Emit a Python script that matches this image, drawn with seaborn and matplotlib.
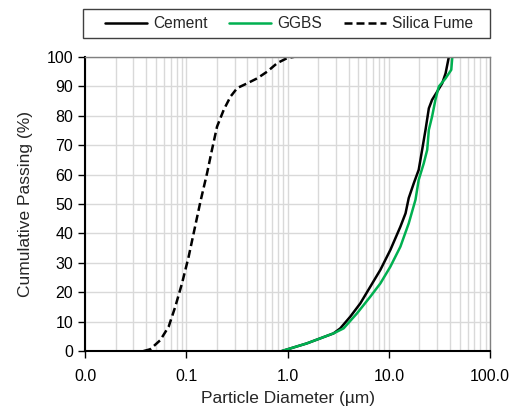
import matplotlib
matplotlib.use("Agg")
import matplotlib.pyplot as plt
import matplotlib.ticker as mticker
from matplotlib.patches import Rectangle
import seaborn as sns
import pandas as pd
import numpy as np

cement_d = [0.877, 1.55, 2.84, 3.31, 4.16, 5.22, 6.56, 8.24, 10.35, 13.0, 14.6, 15.7, 17.6, 19.7, 21.3, 23.0, 24.8, 26.7, 30.0, 33.6, 36.3, 39.1]
cement_p = [0, 2.6, 6.0, 7.7, 11.7, 16.2, 21.9, 27.6, 34.4, 42.3, 46.8, 52.0, 57.0, 61.6, 68.4, 75.2, 82.5, 85.4, 88.2, 91.0, 94.4, 100]

ggbs_d = [0.877, 1.55, 2.84, 3.57, 4.84, 6.56, 8.24, 10.35, 13.0, 15.7, 18.3, 19.7, 22.1, 23.9, 24.8, 26.7, 28.8, 31.1, 36.3, 41.3, 42.3]
ggbs_p = [0, 2.6, 6.0, 7.7, 12.8, 18.5, 23.0, 28.7, 35.5, 43.4, 51.4, 58.2, 63.8, 68.4, 75.2, 79.7, 85.4, 89.9, 92.7, 95.6, 100]

sf_d = [0.0378, 0.0440, 0.0553, 0.0669, 0.0778, 0.0906, 0.1054, 0.118, 0.1377, 0.160, 0.179, 0.201, 0.234, 0.273, 0.318, 0.399, 0.501, 0.630, 0.791, 0.993, 1.156]
sf_p = [0, 0.6, 3.7, 8.3, 15.1, 23.0, 32.1, 40.0, 50.8, 60.4, 68.4, 76.3, 82.0, 86.5, 89.4, 91.0, 92.7, 95.0, 97.9, 99.6, 100]

series_names = ["Cement", "GGBS", "Silica Fume"]

sns.set_style("white")
plt.rcParams['font.family'] = ['Liberation Sans', 'DejaVu Sans']

fig = plt.figure(figsize=(5.22, 4.12), dpi=100)
ax = fig.add_axes([0.163, 0.148, 0.776, 0.714])

df = pd.concat([
    pd.DataFrame({"d": cement_d, "p": cement_p, "s": series_names[0]}),
    pd.DataFrame({"d": ggbs_d, "p": ggbs_p, "s": series_names[1]}),
    pd.DataFrame({"d": sf_d, "p": sf_p, "s": series_names[2]}),
])

colors = {"Cement": "black", "GGBS": "#00B050", "Silica Fume": "black"}
for name in series_names:
    sub = df[df.s == name]
    ls = (0, (3.2, 1.6)) if name == "Silica Fume" else "-"
    sns.lineplot(data=sub, x="d", y="p", ax=ax, color=colors[name], linewidth=1.8,
                 linestyle=ls, estimator=None, sort=False, label=name, legend=False)

ax.set_xscale("log")
ax.set_xlim(0.01, 100)
ax.set_ylim(0, 100)
ax.set_yticks(np.arange(0, 101, 10))
ax.xaxis.set_major_locator(mticker.LogLocator(base=10, numticks=10))
ax.xaxis.set_minor_locator(mticker.LogLocator(base=10, subs=np.arange(2, 10), numticks=100))
ax.xaxis.set_major_formatter(mticker.FuncFormatter(lambda v, p: f"{v:.1f}"))
ax.xaxis.set_minor_formatter(mticker.NullFormatter())

ax.grid(True, which="major", color="#d9d9d9", linewidth=1.0)
ax.grid(True, which="minor", axis="x", color="#d9d9d9", linewidth=1.0)
ax.set_axisbelow(True)

for side in ["left", "bottom"]:
    ax.spines[side].set_color("black")
    ax.spines[side].set_linewidth(1.5)
for side in ["top", "right"]:
    ax.spines[side].set_color("#808080")
    ax.spines[side].set_linewidth(1.0)

ax.tick_params(axis="both", which="major", direction="out", length=5, width=1,
               labelsize=11.5, colors="black", bottom=True, left=True)
ax.tick_params(axis="x", which="minor", length=0)
ax.tick_params(axis="x", pad=8)

ax.set_xlabel("Particle Diameter (µm)", fontsize=12.5, labelpad=5)
ax.set_ylabel("Cumulative Passing (%)", fontsize=12.5, labelpad=10)

# legend frame
fig.patches.append(Rectangle((83 / 522, 1 - 38 / 412), 407 / 522, 29 / 412,
                             transform=fig.transFigure, facecolor="white",
                             edgecolor="#404040", linewidth=1.0))
handles, labels = ax.get_legend_handles_labels()
leg = fig.legend(handles, labels, loc="center", ncol=3,
                 bbox_to_anchor=(0.554, 1 - 23.5 / 412), fontsize=11.2, frameon=False,
                 handlelength=2.7, columnspacing=1.4, handletextpad=0.4)

fig.savefig("out.png", dpi=100)
